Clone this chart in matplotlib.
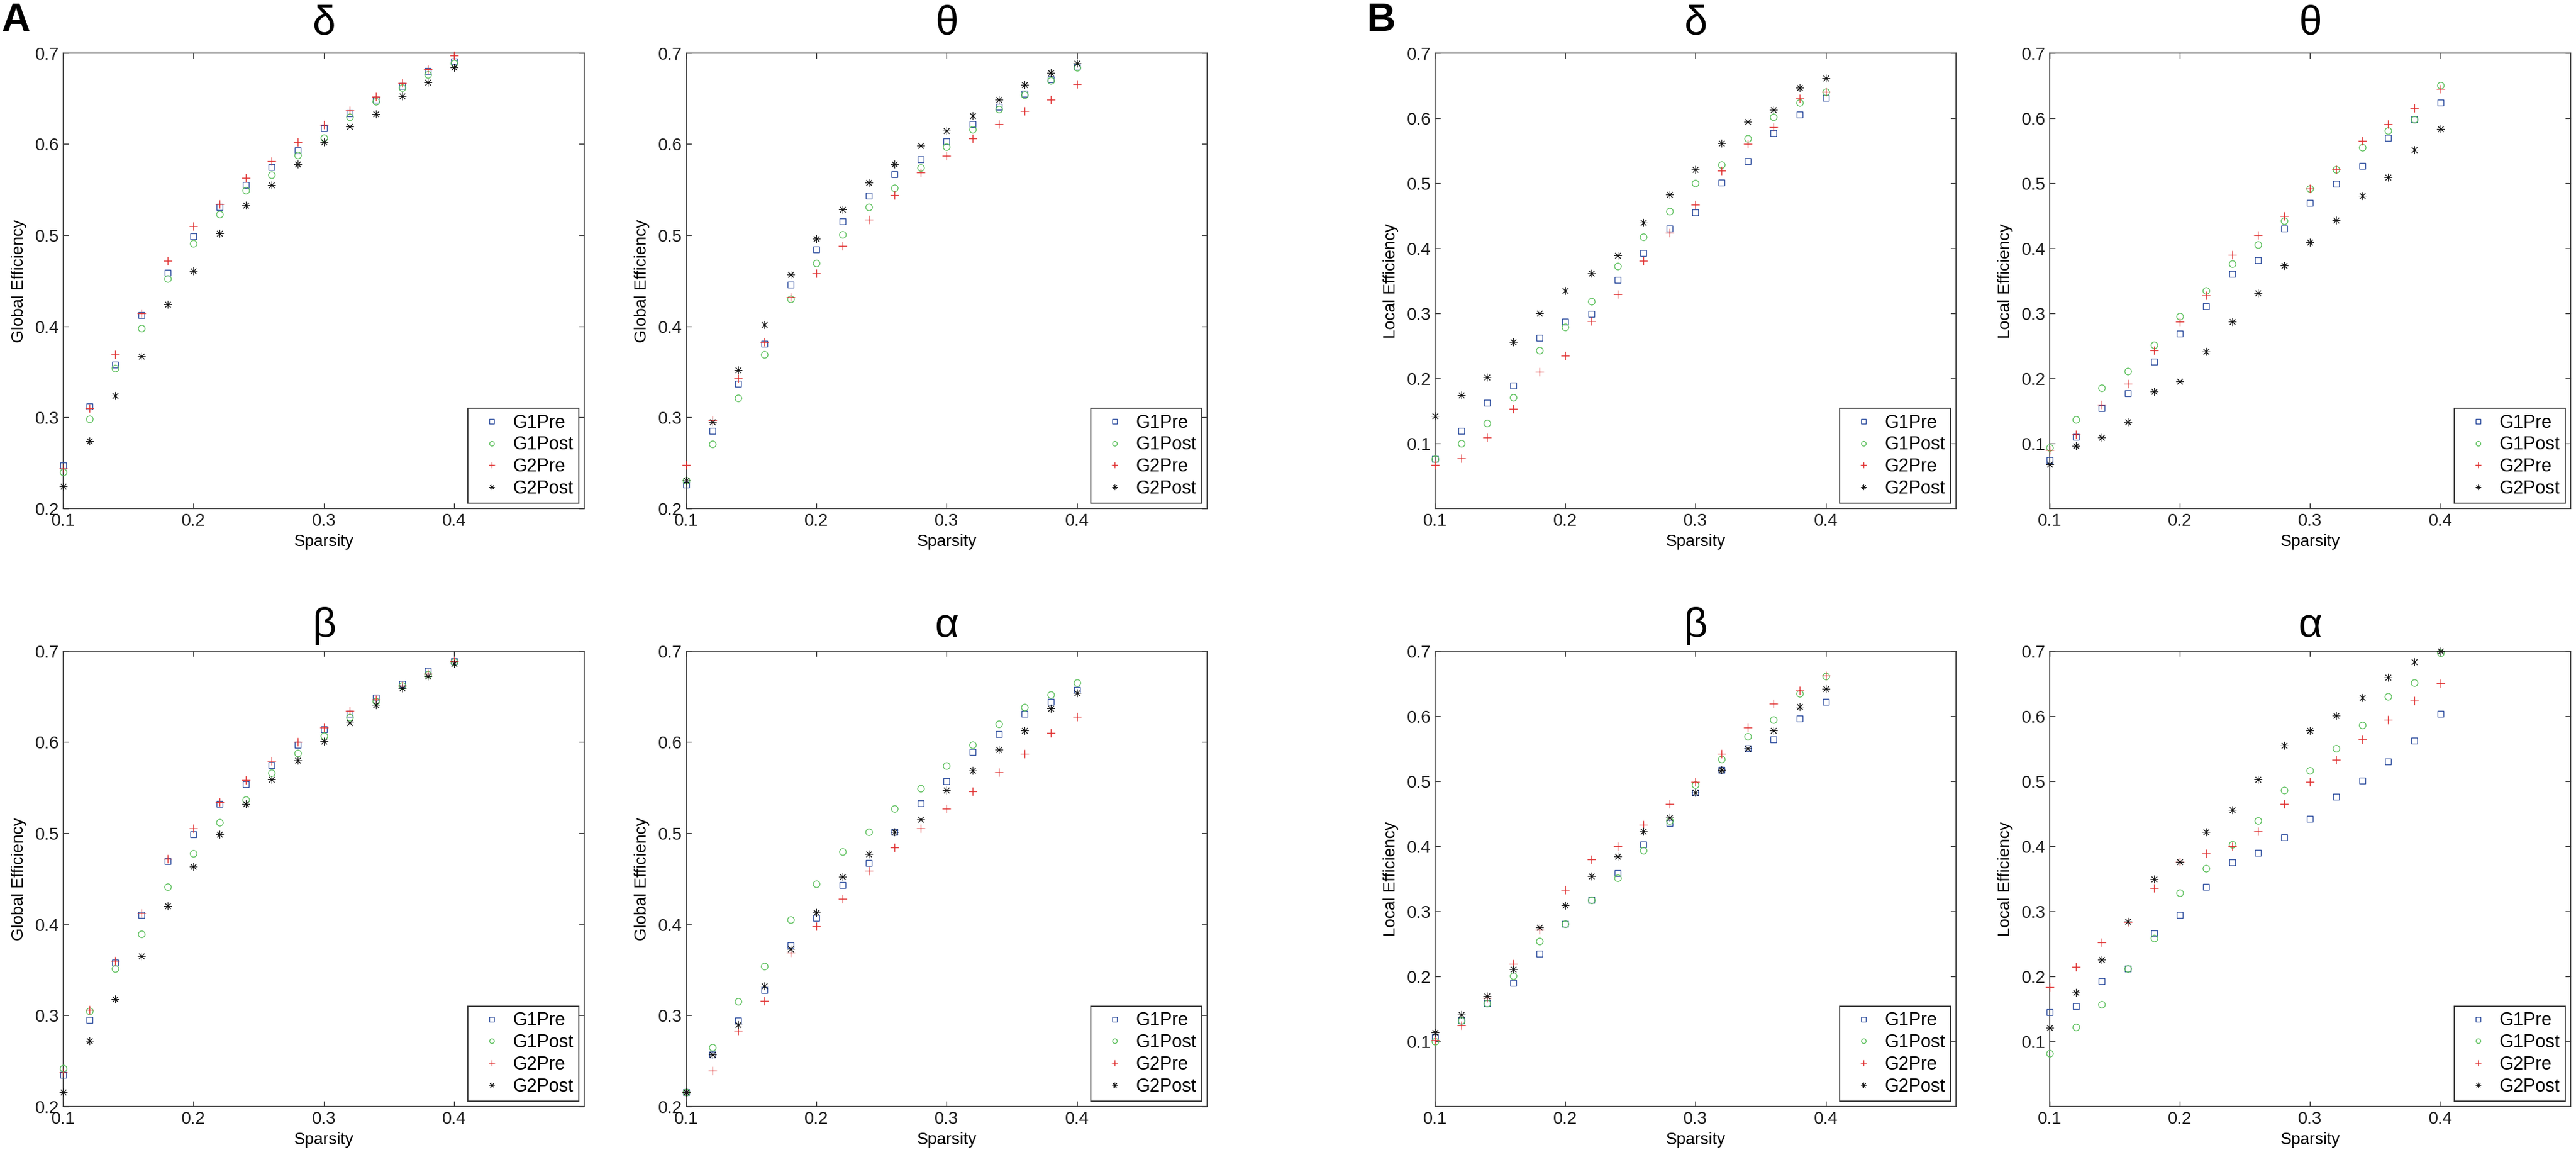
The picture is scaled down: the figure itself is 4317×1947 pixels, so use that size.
"""
Global / local efficiency vs sparsity, four bands, two groups pre/post
"""
import matplotlib as mpl
import matplotlib.pyplot as plt

mpl.rcParams['font.family'] = ['Liberation Sans', 'DejaVu Sans']

sparsity = [0.10, 0.12, 0.14, 0.16, 0.18, 0.20, 0.22, 0.24,
            0.26, 0.28, 0.30, 0.32, 0.34, 0.36, 0.38, 0.40]
series_names = ['G1Pre', 'G1Post', 'G2Pre', 'G2Post']

# A: global efficiency
glob_delta = {
    'G1Pre':  [0.247, 0.312, 0.358, 0.412, 0.459, 0.499, 0.531, 0.555, 0.575, 0.593, 0.617, 0.634, 0.649, 0.664, 0.680, 0.691],
    'G1Post': [0.240, 0.298, 0.354, 0.398, 0.452, 0.491, 0.523, 0.549, 0.566, 0.588, 0.607, 0.630, 0.647, 0.662, 0.676, 0.689],
    'G2Pre':  [0.244, 0.310, 0.369, 0.414, 0.472, 0.510, 0.534, 0.563, 0.581, 0.602, 0.621, 0.637, 0.652, 0.667, 0.682, 0.697],
    'G2Post': [0.224, 0.274, 0.324, 0.367, 0.424, 0.461, 0.502, 0.533, 0.555, 0.578, 0.602, 0.619, 0.633, 0.653, 0.668, 0.684],
}
glob_theta = {
    'G1Pre':  [0.226, 0.285, 0.337, 0.381, 0.446, 0.484, 0.515, 0.543, 0.567, 0.583, 0.603, 0.622, 0.641, 0.655, 0.671, 0.685],
    'G1Post': [0.231, 0.271, 0.321, 0.369, 0.430, 0.469, 0.501, 0.531, 0.552, 0.574, 0.597, 0.616, 0.638, 0.654, 0.670, 0.684],
    'G2Pre':  [0.248, 0.297, 0.343, 0.383, 0.432, 0.458, 0.488, 0.517, 0.544, 0.569, 0.587, 0.606, 0.622, 0.636, 0.649, 0.666],
    'G2Post': [0.231, 0.295, 0.352, 0.402, 0.457, 0.496, 0.528, 0.558, 0.578, 0.598, 0.615, 0.631, 0.649, 0.665, 0.678, 0.689],
}
glob_beta = {
    'G1Pre':  [0.235, 0.295, 0.358, 0.410, 0.469, 0.499, 0.532, 0.554, 0.575, 0.597, 0.614, 0.631, 0.649, 0.664, 0.678, 0.689],
    'G1Post': [0.242, 0.305, 0.351, 0.389, 0.441, 0.478, 0.512, 0.537, 0.566, 0.588, 0.607, 0.627, 0.645, 0.662, 0.674, 0.688],
    'G2Pre':  [0.237, 0.306, 0.360, 0.412, 0.472, 0.505, 0.534, 0.558, 0.579, 0.600, 0.616, 0.634, 0.647, 0.662, 0.675, 0.689],
    'G2Post': [0.216, 0.272, 0.318, 0.365, 0.420, 0.463, 0.499, 0.532, 0.559, 0.580, 0.601, 0.621, 0.641, 0.659, 0.672, 0.686],
}
glob_alpha = {
    'G1Pre':  [0.216, 0.257, 0.294, 0.328, 0.377, 0.407, 0.443, 0.467, 0.501, 0.533, 0.557, 0.589, 0.609, 0.631, 0.644, 0.657],
    'G1Post': [0.216, 0.265, 0.315, 0.354, 0.405, 0.444, 0.480, 0.501, 0.527, 0.549, 0.574, 0.597, 0.620, 0.638, 0.652, 0.665],
    'G2Pre':  [0.216, 0.239, 0.283, 0.316, 0.369, 0.398, 0.428, 0.459, 0.484, 0.505, 0.527, 0.546, 0.567, 0.587, 0.610, 0.628],
    'G2Post': [0.216, 0.257, 0.290, 0.332, 0.373, 0.413, 0.452, 0.477, 0.501, 0.515, 0.547, 0.569, 0.592, 0.613, 0.637, 0.654],
}

# B: local efficiency
loc_delta = {
    'G1Pre':  [0.076, 0.119, 0.162, 0.189, 0.262, 0.287, 0.299, 0.351, 0.393, 0.430, 0.455, 0.501, 0.534, 0.577, 0.605, 0.631],
    'G1Post': [0.076, 0.100, 0.131, 0.171, 0.243, 0.279, 0.318, 0.372, 0.417, 0.457, 0.500, 0.528, 0.569, 0.602, 0.624, 0.640],
    'G2Pre':  [0.067, 0.077, 0.109, 0.153, 0.210, 0.235, 0.288, 0.329, 0.381, 0.424, 0.467, 0.519, 0.560, 0.586, 0.630, 0.640],
    'G2Post': [0.142, 0.174, 0.202, 0.256, 0.300, 0.335, 0.361, 0.389, 0.439, 0.482, 0.521, 0.561, 0.594, 0.613, 0.647, 0.661],
}
loc_theta = {
    'G1Pre':  [0.074, 0.110, 0.154, 0.177, 0.226, 0.269, 0.311, 0.360, 0.382, 0.430, 0.470, 0.499, 0.526, 0.570, 0.598, 0.624],
    'G1Post': [0.094, 0.137, 0.185, 0.211, 0.251, 0.295, 0.335, 0.376, 0.405, 0.442, 0.492, 0.521, 0.555, 0.581, 0.598, 0.650],
    'G2Pre':  [0.090, 0.114, 0.160, 0.192, 0.243, 0.287, 0.327, 0.390, 0.420, 0.449, 0.492, 0.521, 0.565, 0.591, 0.615, 0.645],
    'G2Post': [0.068, 0.096, 0.109, 0.133, 0.180, 0.195, 0.241, 0.287, 0.331, 0.373, 0.409, 0.443, 0.481, 0.509, 0.551, 0.583],
}
loc_beta = {
    'G1Pre':  [0.106, 0.132, 0.159, 0.190, 0.235, 0.281, 0.317, 0.359, 0.403, 0.436, 0.482, 0.517, 0.550, 0.564, 0.596, 0.622],
    'G1Post': [0.100, 0.132, 0.159, 0.201, 0.254, 0.281, 0.317, 0.351, 0.393, 0.439, 0.494, 0.534, 0.569, 0.594, 0.635, 0.661],
    'G2Pre':  [0.102, 0.125, 0.167, 0.219, 0.271, 0.333, 0.380, 0.400, 0.433, 0.465, 0.499, 0.542, 0.582, 0.619, 0.639, 0.662],
    'G2Post': [0.114, 0.141, 0.170, 0.211, 0.275, 0.309, 0.354, 0.384, 0.423, 0.444, 0.482, 0.517, 0.550, 0.578, 0.614, 0.642],
}
loc_alpha = {
    'G1Pre':  [0.145, 0.154, 0.193, 0.212, 0.266, 0.294, 0.337, 0.375, 0.390, 0.414, 0.442, 0.476, 0.501, 0.530, 0.562, 0.603],
    'G1Post': [0.082, 0.122, 0.157, 0.212, 0.259, 0.328, 0.366, 0.403, 0.439, 0.486, 0.516, 0.550, 0.586, 0.630, 0.651, 0.697],
    'G2Pre':  [0.183, 0.215, 0.252, 0.283, 0.336, 0.376, 0.389, 0.400, 0.423, 0.465, 0.499, 0.533, 0.564, 0.594, 0.624, 0.650],
    'G2Post': [0.121, 0.175, 0.226, 0.284, 0.349, 0.376, 0.422, 0.456, 0.503, 0.555, 0.578, 0.601, 0.628, 0.659, 0.683, 0.700],
}

# marker style per series (matlab-like bs, go, r+, k*)
styles = {
    'G1Pre':  dict(marker='s', color='#2f4f9f', ms=7.5, mew=1.0),
    'G1Post': dict(marker='o', color='#5cc05c', ms=8, mew=1.0),
    'G2Pre':  dict(marker='+', color='#e03030', ms=10, mew=1.0),
    'G2Post': dict(marker=(8, 2, 0), color='#111111', ms=9.5, mew=0.7),
}


def draw_panel(ax, data, title, ylabel, ylim, yticks, top_row):
    for name in series_names:
        st = styles[name]
        ax.plot(sparsity, data[name], linestyle='none', marker=st['marker'],
                markersize=st['ms'], markerfacecolor='none',
                markeredgecolor=st['color'], markeredgewidth=st['mew'],
                label=name, clip_on=False, zorder=3)

    ax.set_xlim(0.1, 0.5)
    ax.set_ylim(*ylim)
    ax.set_xticks([0.1, 0.2, 0.3, 0.4], labels=['0.1', '0.2', '0.3', '0.4'])
    ax.set_yticks(yticks, labels=['%.1f' % v for v in yticks])
    ax.tick_params(direction='in', top=True, right=True, length=6.5,
                   width=1.0, labelsize=21, pad=5, colors='#202020')
    for sp in ax.spines.values():
        sp.set_color('#404040')
        sp.set_linewidth(1.3)

    ax.set_xlabel('Sparsity', fontsize=20, labelpad=6)
    ax.set_ylabel(ylabel, fontsize=20, labelpad=10)

    yt = 1.064 if top_row else 1.054
    ax.text(0.5, yt, title, transform=ax.transAxes, ha='center',
            va='center', fontsize=50)

    leg = ax.legend(loc='lower right', fontsize=22, markerscale=0.7,
                    numpoints=1, fancybox=False, framealpha=1,
                    borderaxespad=0.3, borderpad=0.3, handlelength=2.0,
                    handletextpad=0.15, labelspacing=0.22)
    leg.get_frame().set_edgecolor('#303030')
    leg.get_frame().set_linewidth(1.3)


fig = plt.figure(figsize=(43.17, 19.47), dpi=100)

lefts = [0.0246, 0.2664, 0.5571, 0.7957]
bottoms = [0.5624, 0.0478]
w, h = 0.2022, 0.3920

panels = [
    (0, 0, glob_delta, 'δ', 'Global Efficiency'),
    (0, 1, glob_theta, 'θ', 'Global Efficiency'),
    (1, 0, glob_beta, 'β', 'Global Efficiency'),
    (1, 1, glob_alpha, 'α', 'Global Efficiency'),
    (0, 2, loc_delta, 'δ', 'Local Efficiency'),
    (0, 3, loc_theta, 'θ', 'Local Efficiency'),
    (1, 2, loc_beta, 'β', 'Local Efficiency'),
    (1, 3, loc_alpha, 'α', 'Local Efficiency'),
]

for row, col, data, title, ylabel in panels:
    ax = fig.add_axes([lefts[col], bottoms[row], w, h])
    if col < 2:
        ylim = (0.2, 0.7)
        yticks = [0.2, 0.3, 0.4, 0.5, 0.6, 0.7]
    else:
        ylim = (0.0, 0.7)
        yticks = [0.1, 0.2, 0.3, 0.4, 0.5, 0.6, 0.7]
    draw_panel(ax, data, title, ylabel, ylim, yticks, row == 0)

# panel letters
fig.text(0.0005, 0.982, 'A', fontsize=48, fontweight='bold', va='center', ha='left')
fig.text(0.5305, 0.982, 'B', fontsize=48, fontweight='bold', va='center', ha='left')

fig.savefig('out.png', dpi=100)
plt.close('all')
